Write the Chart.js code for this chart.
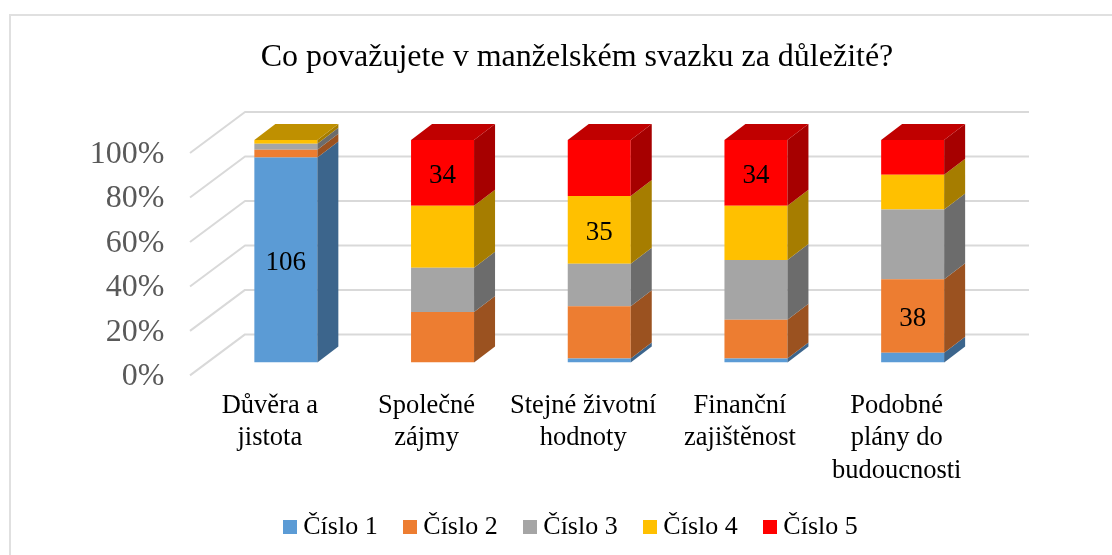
<!DOCTYPE html>
<html lang="cs">
<head>
<meta charset="utf-8">
<style>html,body{margin:0;padding:0;background:#fff}#wrap{width:1112px;height:555px}canvas{display:block}</style>
<script src="https://cdn.jsdelivr.net/npm/chart.js@4"></script>
</head>
<body>
<div id="wrap"><canvas id="c" width="1112" height="555"></canvas></div>
<script>
const categories = [["Důvěra a","jistota"],["Společné","zájmy"],["Stejné životní","hodnoty"],["Finanční","zajištěnost"],["Podobné","plány do","budoucnosti"]];
const seriesNames = ["Číslo 1","Číslo 2","Číslo 3","Číslo 4","Číslo 5"];
const cislo1 = [106,0,2,2,5];
const cislo2 = [4,26,27,20,38];
const cislo3 = [3,23,22,31,36];
const cislo4 = [2,32,35,28,18];
const cislo5 = [0,34,29,34,18];
const yTicks = [0,20,40,60,80,100];
// which cells carry a printed count: [series index, category index]
const labelledCells = [[0,0],[4,1],[3,2],[4,3],[1,4]];

const serif = '"Liberation Serif","Times New Roman",serif';
const frontColors = ["#5B9BD5","#ED7D31","#A5A5A5","#FFC000","#FF0000"];
const sideColors = ["#3C658C","#9B5220","#6C6C6C","#A67D00","#A60000"];
const topColors = ["#4A7FAF","#BE6428","#848484","#BF9000","#C00000"];
const allSeries = [cislo1,cislo2,cislo3,cislo4,cislo5];
const totals = categories.map((_,i)=>allSeries.reduce((s,a)=>s+a[i],0));
const DX = 21, DY = 16;
const LEG_SHIFT = 3;

function swatch(color){
  const c=document.createElement('canvas');c.width=14;c.height=14;
  const g=c.getContext('2d');g.fillStyle=color;g.fillRect(0,0,14,14);return c;
}
const swatches = frontColors.map(swatch);

const scene = {
  id:'scene',
  afterLayout(chart){
    chart.legend.left -= LEG_SHIFT; chart.legend.right -= LEG_SHIFT;
  },
  beforeDraw(chart){
    const ctx=chart.ctx;
    ctx.save();
    ctx.fillStyle='#fff';ctx.fillRect(0,0,chart.width,chart.height);
    ctx.strokeStyle='#E0E0E0';ctx.lineWidth=2;
    ctx.beginPath();ctx.moveTo(10,555);ctx.lineTo(10,15);ctx.lineTo(1112,15);ctx.stroke();
    ctx.restore();
  },
  beforeDatasetsDraw(chart){
    const ctx=chart.ctx,y=chart.scales.y,a=chart.chartArea;
    ctx.save();
    ctx.strokeStyle='#D9D9D9';ctx.lineWidth=2;ctx.lineJoin='round';
    const xFront=a.left-17.5,xBack=a.left+37.5,xEnd=a.right+38;
    yTicks.forEach(v=>{
      const p=y.getPixelForValue(v);
      ctx.beginPath();ctx.moveTo(xFront,p+13);ctx.lineTo(xBack,p-28);ctx.lineTo(xEnd,p-28);ctx.stroke();
    });
    ctx.restore();
  },
  afterDatasetsDraw(chart){
    const ctx=chart.ctx;
    ctx.save();
    chart.data.datasets.forEach((ds,di)=>{
      chart.getDatasetMeta(di).data.forEach((bar,i)=>{
        if(!allSeries[di][i]) return;
        const r=bar.x+bar.width/2,t=bar.y,b=bar.base,l=bar.x-bar.width/2;
        ctx.fillStyle=sideColors[di];
        ctx.beginPath();ctx.moveTo(r,b);ctx.lineTo(r+DX,b-DY);ctx.lineTo(r+DX,t-DY);ctx.lineTo(r,t);ctx.closePath();ctx.fill();
        const isTop=allSeries.slice(di+1).every(a=>!a[i]);
        if(isTop){
          ctx.fillStyle=topColors[di];
          ctx.beginPath();ctx.moveTo(l,t);ctx.lineTo(l+DX,t-DY);ctx.lineTo(r+DX,t-DY);ctx.lineTo(r,t);ctx.closePath();ctx.fill();
        }
      });
    });
    ctx.fillStyle='#000';ctx.font='27px '+serif;ctx.textAlign='center';ctx.textBaseline='middle';
    labelledCells.forEach(([di,i])=>{
      const bar=chart.getDatasetMeta(di).data[i];
      ctx.fillText(String(allSeries[di][i]),bar.x,(bar.y+bar.base)/2+3);
    });
    ctx.restore();
  }
};

new Chart(document.getElementById('c'),{
  type:'bar',
  data:{
    labels:categories,
    datasets:seriesNames.map((n,di)=>({
      label:n,
      data:allSeries[di].map((v,i)=>v/totals[i]*100),
      backgroundColor:frontColors[di],
      borderWidth:0,
      categoryPercentage:1,
      barPercentage:0.402
    }))
  },
  options:{
    responsive:false,
    animation:false,
    layout:{padding:{left:42,right:0,top:0,bottom:5}},
    plugins:{
      tooltip:{enabled:false},
      title:{display:true,text:'Co považujete v manželském svazku za důležité?',color:'#000',
        font:{family:serif,size:32,weight:'normal',lineHeight:1.2},padding:{top:38,bottom:63.6}},
      legend:{position:'bottom',
        labels:{usePointStyle:true,boxWidth:0.01,padding:32.6,color:'#000',font:{family:serif,size:26},
          generateLabels(chart){
            return chart.data.datasets.map((d,i)=>({text:d.label,datasetIndex:i,pointStyle:swatches[i],
              fillStyle:frontColors[i],strokeStyle:frontColors[i],lineWidth:0,hidden:false,fontColor:'#000'}));
          }}}
    },
    scales:{
      x:{stacked:true,grid:{display:false},border:{display:false},
        afterFit(s){s.height=119;},
        ticks:{autoSkip:false,maxRotation:0,minRotation:0,padding:20,labelOffset:-16,color:'#000',
          font:{family:serif,size:26.5,lineHeight:1.21}}},
      y:{stacked:true,min:0,max:100,grid:{display:false,drawTicks:false},border:{display:false},
        afterFit(s){s.width=165.5;},
        ticks:{stepSize:20,padding:43,labelOffset:14.5,color:'#595959',font:{family:serif,size:32},
          callback:v=>v+'%'}},
      y2:{position:'right',display:true,grid:{display:false,drawTicks:false},border:{display:false},
        ticks:{display:false},afterFit(s){s.width=121;}}
    }
  },
  plugins:[scene]
});
</script>
</body>
</html>
